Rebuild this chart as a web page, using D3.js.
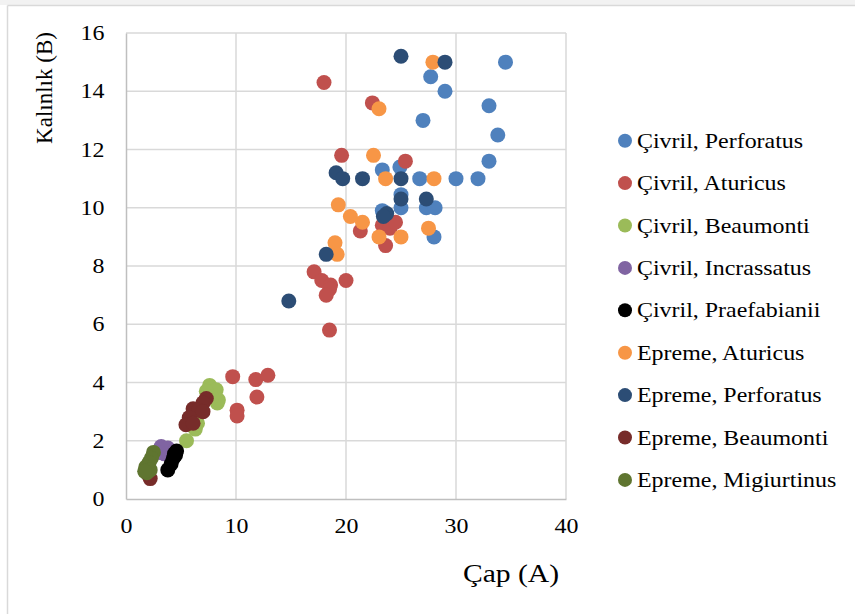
<!DOCTYPE html>
<html>
<head>
<meta charset="utf-8">
<script src="https://cdn.jsdelivr.net/npm/d3@7"></script>
<style>
  html, body { margin: 0; padding: 0; background: #fff; }
  svg { display: block; font-family: "Liberation Serif", "Times New Roman", serif; }
</style>
</head>
<body>
<svg id="chart" width="855" height="614"></svg>
<script>
// Çap (A) vs Kalınlık (B) measurements per locality and species
const civrilPerforatus = [
  [34.5, 15], [27.7, 14.5], [29, 14], [33, 13.5], [27, 13], [33.8, 12.5], [33, 11.6],
  [23.3, 11.3], [24.9, 11.4], [26.7, 11], [30, 11], [32, 11], [25, 10.45], [25, 10],
  [23.3, 9.9], [27.3, 10], [28.1, 10], [28, 9]
];
const civrilAturicus = [
  [18, 14.3], [22.4, 13.6], [19.6, 11.8], [25.4, 11.6], [21.3, 9.2], [23.3, 9.4],
  [24, 9.3], [24.5, 9.5], [23.6, 8.7], [17.1, 7.8], [17.8, 7.5], [18.6, 7.35],
  [18.5, 7.2], [18.2, 7.0], [20, 7.5], [18.5, 5.8], [9.7, 4.2], [11.8, 4.1],
  [12.9, 4.25], [11.9, 3.5], [10.1, 3.05], [10.1, 2.85]
];
const civrilBeaumonti = [
  [7.6, 3.9], [8.2, 3.75], [7.3, 3.7], [8.3, 3.3], [8.4, 3.4], [7.8, 3.5],
  [6.5, 2.6], [6.3, 2.4], [5.5, 2.0]
];
const civrilIncrassatus = [[3.2, 1.8], [3.8, 1.75], [3.5, 1.55], [3.0, 1.6]];
const civrilPraefabianii = [[4.6, 1.65], [4.5, 1.5], [4.3, 1.4], [4.1, 1.2], [3.8, 1.0], [4.4, 1.55]];
const epremeAturicus = [
  [27.9, 15], [23, 13.4], [22.5, 11.8], [23.6, 11], [28, 11], [19.3, 10.1], [20.4, 9.7],
  [21.5, 9.5], [27.5, 9.3], [23, 9], [25, 9], [19, 8.8], [19.2, 8.4]
];
const epremePerforatus = [
  [25, 15.2], [29, 15], [19.1, 11.2], [19.7, 11], [21.5, 11], [25, 11], [25, 10.3],
  [27.3, 10.3], [23.7, 9.8], [23.4, 9.7], [18.2, 8.4], [14.8, 6.8]
];
const epremeBeaumonti = [
  [7.3, 3.45], [7, 3.3], [6.1, 3.1], [6.6, 3.05], [7, 3], [5.75, 2.8], [5.45, 2.55],
  [6.1, 2.6], [2.2, 0.7], [2.0, 0.85]
];
const epremeMigiurtinus = [
  [2.5, 1.6], [2.3, 1.4], [2.1, 1.25], [1.8, 1.1], [1.9, 0.9], [2.2, 1.0], [1.7, 0.95]
];

const seriesNames = [
  "Çivril, Perforatus", "Çivril, Aturicus", "Çivril, Beaumonti", "Çivril, Incrassatus",
  "Çivril, Praefabianii", "Epreme, Aturicus", "Epreme, Perforatus", "Epreme, Beaumonti",
  "Epreme, Migiurtinus"
];
const seriesValues = [
  civrilPerforatus, civrilAturicus, civrilBeaumonti, civrilIncrassatus, civrilPraefabianii,
  epremeAturicus, epremePerforatus, epremeBeaumonti, epremeMigiurtinus
];
const seriesColors = [
  "#4F81BD", "#C0504D", "#9BBB59", "#8064A2", "#000000",
  "#F79646", "#2C4D75", "#772C2A", "#5F7530"
];
const xTicks = [0, 10, 20, 30, 40];
const yTicks = [0, 2, 4, 6, 8, 10, 12, 14, 16];

// horizontal stretch of the serif type
const textStretch = 1.14;

const svg = d3.select("#chart");

// page frame
svg.append("rect").attr("x", 0).attr("y", 0).attr("width", 855).attr("height", 5).attr("fill", "#F2F2F2");
svg.append("line").attr("x1", 7.5).attr("x2", 855).attr("y1", 5.5).attr("y2", 5.5)
  .attr("stroke", "#D9D9D9").attr("stroke-width", 1.5);
svg.append("line").attr("x1", 7.5).attr("x2", 7.5).attr("y1", 5.5).attr("y2", 614)
  .attr("stroke", "#D9D9D9").attr("stroke-width", 1.5);

const x = d3.scaleLinear().domain([0, 40]).range([126, 566]);
const y = d3.scaleLinear().domain([0, 16]).range([499, 33]);

// gridlines
svg.append("g")
  .selectAll("line").data(xTicks.slice(1)).join("line")
  .attr("x1", d => x(d)).attr("x2", d => x(d)).attr("y1", y(0)).attr("y2", y(16))
  .attr("stroke", "#D9D9D9").attr("stroke-width", 1.5);
svg.append("g")
  .selectAll("line").data(yTicks.slice(1)).join("line")
  .attr("x1", x(0)).attr("x2", x(40)).attr("y1", d => y(d)).attr("y2", d => y(d))
  .attr("stroke", "#D9D9D9").attr("stroke-width", 1.5);

// axes
const xAxis = svg.append("g").attr("transform", `translate(0,${y(0)})`)
  .call(d3.axisBottom(x).tickValues(xTicks).tickSize(0).tickPadding(19));
const yAxis = svg.append("g").attr("transform", `translate(${x(0)},0)`)
  .call(d3.axisLeft(y).tickValues(yTicks).tickSize(0).tickPadding(19));
[xAxis, yAxis].forEach(g => {
  g.select(".domain").attr("stroke", "#BFBFBF").attr("stroke-width", 1.5);
  g.selectAll("text").attr("font-family", "Liberation Serif").attr("font-size", 21)
    .attr("fill", "#000").attr("transform", `scale(${textStretch},1)`);
});

// axis titles
svg.append("text").attr("transform", `translate(511,582) scale(${textStretch},1)`)
  .attr("text-anchor", "middle").attr("font-size", 26).text("Çap (A)");
svg.append("text").attr("transform", `translate(52,88) rotate(-90)`).attr("text-anchor", "middle")
  .attr("font-size", 23).text("Kalınlık (B)");

// points
seriesValues.forEach((vals, i) => {
  svg.append("g").selectAll("circle").data(vals).join("circle")
    .attr("cx", d => x(d[0])).attr("cy", d => y(d[1])).attr("r", 7.5)
    .attr("fill", seriesColors[i]);
});

// legend
const legend = svg.append("g").selectAll("g").data(seriesNames).join("g")
  .attr("transform", (d, i) => `translate(625,${140.7 + i * 42.4})`);
legend.append("circle").attr("r", 7).attr("fill", (d, i) => seriesColors[i]);
legend.append("text").attr("transform", `translate(12,7) scale(${textStretch},1)`)
  .attr("font-size", 21).text(d => d);
</script>
</body>
</html>
